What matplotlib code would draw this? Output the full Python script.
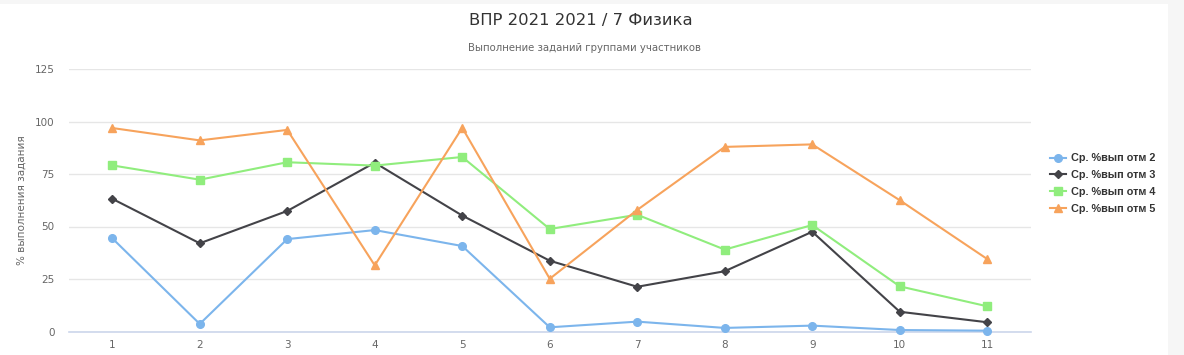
import matplotlib.pyplot as plt
from matplotlib.patches import Rectangle

# Данные
tasks = ['1', '2', '3', '4', '5', '6', '7', '8', '9', '10', '11']
otm2 = [44.4, 3.6, 44.0, 48.3, 40.7, 2.0, 4.7, 1.7, 2.8, 0.7, 0.4]
otm3 = [63.2, 42.0, 57.4, 80.4, 55.2, 33.7, 21.3, 28.7, 47.5, 9.4, 4.4]
otm4 = [79.1, 72.3, 80.6, 79.0, 83.1, 48.8, 55.6, 39.0, 50.7, 21.5, 12.0]
otm5 = [96.9, 91.0, 96.0, 31.5, 97.0, 25.1, 57.9, 87.9, 89.1, 62.5, 34.5]

series_names = ['Ср. %вып отм 2', 'Ср. %вып отм 3', 'Ср. %вып отм 4', 'Ср. %вып отм 5']
series_colors = ['#7cb5ec', '#434348', '#90ed7d', '#f7a35c']
series_markers = ['o', 'D', 's', '^']
y_ticks = [0, 25, 50, 75, 100, 125]

W, H = 1184, 355
fig = plt.figure(figsize=(W / 100, H / 100), dpi=100, facecolor='white')
# серые поля сверху и справа
fig.patches.append(Rectangle((0, (H - 4) / H), 1, 4 / H, transform=fig.transFigure,
                             facecolor='#f6f6f6', edgecolor='none', zorder=-10))
fig.patches.append(Rectangle((1168 / W, 0), 16 / W, 1, transform=fig.transFigure,
                             facecolor='#f6f6f6', edgecolor='none', zorder=-10))

ax = fig.add_axes([68.5 / W, (H - 331.5) / H, (1031 - 68.5) / W, (331.5 - 69) / H])
ax.set_facecolor('white')

x = list(range(len(tasks)))
sizes = [5.5, 4.5, 6, 6]
for vals, name, col, mk, ms in zip([otm2, otm3, otm4, otm5], series_names,
                                   series_colors, series_markers, sizes):
    ax.plot(x, vals, color=col, marker=mk, markersize=ms, linewidth=1.5,
            label=name, clip_on=False, zorder=3)

ax.set_xlim(-0.5, len(tasks) - 0.5)
ax.set_ylim(0, 125)
ax.set_xticks(x)
ax.set_xticklabels(tasks)
ax.set_yticks(y_ticks)
ax.grid(axis='y', color='#e6e6e6', linewidth=1)
ax.set_axisbelow(True)
for s in ['top', 'right', 'left']:
    ax.spines[s].set_visible(False)
ax.spines['bottom'].set_color('#ccd6eb')
ax.spines['bottom'].set_linewidth(1.2)
ax.tick_params(axis='both', length=0, labelsize=7.5, labelcolor='#666666')
ax.tick_params(axis='x', pad=6)
ax.tick_params(axis='y', pad=10)

ax.set_ylabel('% выполнения задания', fontsize=7.5, color='#666666')
ax.yaxis.set_label_coords(-42 / (1031 - 68.5), (331.5 - 200) / (331.5 - 69))

fig.text(581 / W, 1 - 20 / H, 'ВПР 2021 2021 / 7 Физика', ha='center', va='center',
         fontsize=11.8, color='#333333')
fig.text(584 / W, 1 - 48 / H, 'Выполнение заданий группами участников', ha='center',
         va='center', fontsize=7.3, color='#666666')

leg = fig.legend(loc='upper left', bbox_to_anchor=(1045 / W, 1 - 148 / H), frameon=False,
                 prop={'family': 'Liberation Sans', 'weight': 'bold', 'size': 7.8},
                 handlelength=1.4, handletextpad=0.5, labelspacing=0.62, borderpad=0)
for t in leg.get_texts():
    t.set_color('#333333')

fig.savefig('out.png', dpi=100, facecolor=fig.get_facecolor())
